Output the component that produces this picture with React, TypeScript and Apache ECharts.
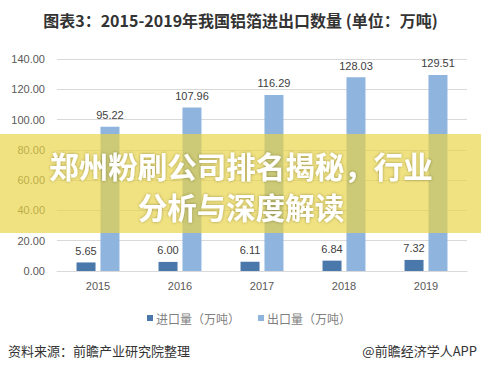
import React, { useEffect, useRef } from "react";
import * as echarts from "echarts";

const years = ["2015", "2016", "2017", "2018", "2019"];
const importValues = [5.65, 6.0, 6.11, 6.84, 7.32];
const exportValues = [95.22, 107.96, 116.29, 128.03, 129.51];
const seriesNames = ["进口量（万吨）", "出口量（万吨）"];
const titleText = "图表3：2015-2019年我国铝箔进出口数量 (单位：万吨)";
const sourceText = "资料来源：前瞻产业研究院整理";
const brandText = "@前瞻经济学人APP";
const bannerLines = ["郑州粉刷公司排名揭秘，行业", "分析与深度解读"];

const FONT = "'Liberation Sans', 'Noto Sans CJK SC', sans-serif";
const CJK = "'Noto Sans CJK SC', sans-serif";

export default function App() {
  const ref = useRef<HTMLDivElement>(null);
  useEffect(() => {
    document.body.style.margin = "0";
    const chart = echarts.init(ref.current!, null, { renderer: "svg" });
    const labelCommon = {
      show: true,
      position: "top",
      distance: 6,
      color: "#404040",
      fontSize: 11,
      fontFamily: FONT,
      formatter: (p: any) => Number(p.value).toFixed(2),
    };
    const bannerText = (text: string, y: number) => ({
      type: "text",
      z: 101,
      x: 241,
      y,
      style: {
        text,
        fill: "#ffffff",
        fontSize: 29.5,
        fontWeight: "bold",
        fontFamily: CJK,
        align: "center",
        verticalAlign: "middle",
        textShadowColor: "rgba(0,0,0,0.35)",
        textShadowBlur: 3,
      },
    });
    chart.setOption({
      animation: false,
      backgroundColor: "#ffffff",
      title: {
        text: titleText,
        left: "center",
        top: 7,
        textStyle: { fontSize: 16, fontWeight: "bold", color: "#333333", fontFamily: CJK },
      },
      legend: {
        bottom: 41,
        left: 142,
        itemWidth: 6,
        itemHeight: 6,
        itemGap: 18,
        icon: "rect",
        textStyle: { fontSize: 12, color: "#7f7f7f", fontFamily: CJK, padding: [0, 0, 0, -2] },
        data: seriesNames,
      },
      grid: { left: 57, right: 14, top: 59, bottom: 99 },
      xAxis: {
        type: "category",
        data: years,
        axisLine: { show: true, lineStyle: { color: "#d9d9d9" } },
        axisTick: { show: false },
        axisLabel: { color: "#595959", fontSize: 11, fontFamily: FONT, margin: 9 },
      },
      yAxis: {
        type: "value",
        min: 0,
        max: 140,
        interval: 20,
        axisLine: { show: false },
        axisTick: { show: false },
        splitLine: { lineStyle: { color: "#d9d9d9" } },
        axisLabel: {
          color: "#595959",
          fontSize: 11,
          fontFamily: FONT,
          margin: 12,
          formatter: (v: number) => v.toFixed(2),
        },
      },
      series: [
        {
          name: seriesNames[0],
          type: "bar",
          data: importValues,
          barWidth: 19,
          barGap: "26%",
          itemStyle: { color: "#4a78aa" },
          label: labelCommon,
        },
        {
          name: seriesNames[1],
          type: "bar",
          data: exportValues,
          barWidth: 19,
          itemStyle: { color: "#8fb5de" },
          label: labelCommon,
        },
      ],
      graphic: [
        {
          type: "rect",
          z: 100,
          shape: { x: 0, y: 134, width: 481, height: 99 },
          style: { fill: "rgba(233, 212, 70, 0.68)" },
        },
        bannerText(bannerLines[0], 165),
        bannerText(bannerLines[1], 206),
        {
          type: "text",
          left: 8,
          top: 344,
          style: { text: sourceText, fill: "#333333", fontSize: 13, fontFamily: CJK },
        },
        {
          type: "text",
          right: 4,
          top: 344,
          style: { text: brandText, fill: "#333333", fontSize: 13, fontFamily: CJK },
        },
      ],
    });
    return () => chart.dispose();
  }, []);
  return <div ref={ref} style={{ width: 481, height: 370 }} />;
}
